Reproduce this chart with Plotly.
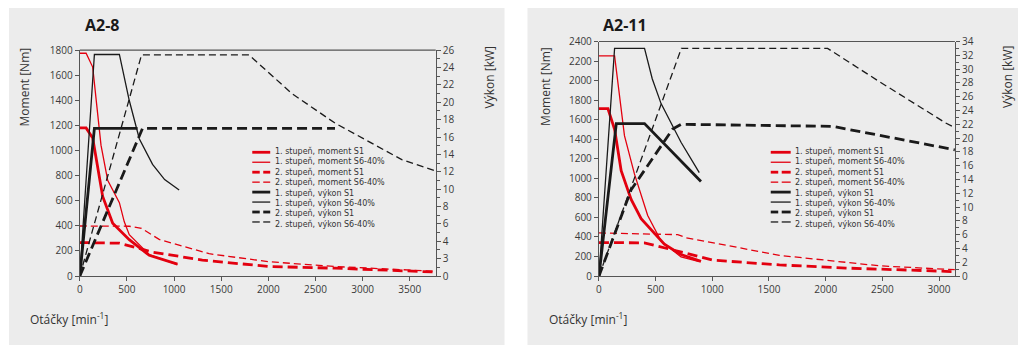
import plotly.graph_objects as go

W, H = 1024, 352

# ---------------- data: A2-8 ----------------
a8_m1s1_x = [0, 67, 137, 243, 349, 525, 737, 1036]
a8_m1s1_y = [1180, 1180, 1100, 635, 420, 290, 165, 95]
a8_m1s6_x = [0, 67, 137, 225, 296, 420, 472, 525, 737, 1036]
a8_m1s6_y = [1775, 1775, 1665, 1043, 763, 585, 432, 330, 170, 92]
a8_m2s1_x = [0, 420, 772, 1300, 2005, 2707, 3775]
a8_m2s1_y = [267, 262, 191, 127, 76, 63, 32]
a8_m2s6_x = [0, 525, 655, 842, 1371, 2005, 2707, 3415, 3775]
a8_m2s6_y = [399, 397, 380, 292, 178, 114, 76, 51, 38]
a8_p1s1_x = [0, 155, 613]
a8_p1s1_y = [0, 17, 17]
a8_p1s6_x = [0, 155, 420, 470, 525, 631, 772, 900, 1054]
a8_p1s6_y = [0, 25.5, 25.5, 22.8, 20.2, 15.8, 12.85, 11.1, 9.9]
a8_p2s1_x = [0, 666, 2707]
a8_p2s1_y = [0, 17, 17]
a8_p2s6_x = [0, 655, 1794, 2250, 2707, 3415, 3775]
a8_p2s6_y = [0, 25.45, 25.45, 21.0, 17.6, 13.4, 12.1]

# ---------------- data: A2-11 ----------------
a11_m1s1_x = [0, 79, 138, 196, 284, 372, 577, 724, 900]
a11_m1s1_y = [1714, 1714, 1502, 1078, 784, 588, 327, 220, 150]
a11_m1s6_x = [0, 138, 225, 313, 430, 548, 724, 885]
a11_m1s6_y = [2253, 2253, 1437, 1045, 620, 359, 196, 147]
a11_m2s1_x = [0, 400, 507, 1006, 1592, 2178, 3058, 3140]
a11_m2s1_y = [343, 340, 310, 163, 114, 82, 49, 45]
a11_m2s6_x = [0, 695, 771, 1592, 2472, 3140]
a11_m2s6_y = [441, 424, 392, 212, 105, 65]
a11_p1s1_x = [0, 153, 402, 900]
a11_p1s1_y = [0, 22.1, 22.1, 13.7]
a11_p1s6_x = [0, 138, 402, 470, 548, 724, 885]
a11_p1s6_y = [0, 33.0, 33.0, 28.6, 25.0, 19.4, 15.0]
a11_p2s1_x = [0, 284, 650, 724, 2063, 3140]
a11_p2s1_y = [0, 12.5, 21.3, 22.0, 21.7, 18.3]
a11_p2s6_x = [0, 727, 2017, 2472, 3058, 3140]
a11_p2s6_y = [0, 33.0, 33.0, 28.2, 22.2, 21.5]

titles = ["A2-8", "A2-11"]
legend_names = ["1. stupeň, moment S1", "1. stupeň, moment S6-40%",
                "2. stupeň, moment S1", "2. stupeň, moment S6-40%",
                "1. stupeň, výkon S1", "1. stupeň, výkon S6-40%",
                "2. stupeň, výkon S1", "2. stupeň, výkon S6-40%"]
a8_x_ticks = [0, 500, 1000, 1500, 2000, 2500, 3000, 3500]
a11_x_ticks = [0, 500, 1000, 1500, 2000, 2500, 3000]
a8_m_ticks = list(range(0, 1801, 200))
a11_m_ticks = list(range(0, 2401, 200))
a8_p_tickvals = [0, 2, 4, 6, 8, 10, 12, 14, 16, 18, 20, 22, 24, 26]
a8_p_ticktext = ["0", "3", "4", "6", "8", "10", "12", "14", "16", "18", "20", "22", "24", "26"]
a11_p_tickvals = list(range(0, 35, 2))

RED = "#e3000f"
BLK = "#1a1a1a"
THICK_DASH = "10px,5px"
THIN_DASH = "7px,4px"
styles = [  # color, width, dash
    (RED, 2.8, "solid"), (RED, 1.3, "solid"), (RED, 2.8, THICK_DASH), (RED, 1.3, THIN_DASH),
    (BLK, 2.8, "solid"), (BLK, 1.3, "solid"), (BLK, 2.8, THICK_DASH), (BLK, 1.3, THIN_DASH),
]

fig = go.Figure()

def px_x(p):
    return p / W

def px_y(p):
    return 1 - p / H

def add_chart(series, xa, ya, ya2):
    for i, (xs, ys) in enumerate(series):
        c, w, d = styles[i]
        axis_y = ya if i < 4 else ya2
        fig.add_trace(go.Scatter(x=xs, y=ys, mode="lines", name=legend_names[i],
                                 line=dict(color=c, width=w, dash=d),
                                 xaxis=xa, yaxis=axis_y, showlegend=False,
                                 hoverinfo="skip"))

add_chart([(a8_m1s1_x, a8_m1s1_y), (a8_m1s6_x, a8_m1s6_y), (a8_m2s1_x, a8_m2s1_y), (a8_m2s6_x, a8_m2s6_y),
           (a8_p1s1_x, a8_p1s1_y), (a8_p1s6_x, a8_p1s6_y), (a8_p2s1_x, a8_p2s1_y), (a8_p2s6_x, a8_p2s6_y)],
          "x", "y", "y2")
add_chart([(a11_m1s1_x, a11_m1s1_y), (a11_m1s6_x, a11_m1s6_y), (a11_m2s1_x, a11_m2s1_y), (a11_m2s6_x, a11_m2s6_y),
           (a11_p1s1_x, a11_p1s1_y), (a11_p1s6_x, a11_p1s6_y), (a11_p2s1_x, a11_p2s1_y), (a11_p2s6_x, a11_p2s6_y)],
          "x2", "y3", "y4")

FONT = "Open Sans"
TICKF = dict(family=FONT, size=10, color="#3a3a3a")
AXC = "#555555"

common_x = dict(showgrid=False, zeroline=False, showline=True, linecolor=AXC, linewidth=1.2,
                ticks="outside", ticklen=4, tickcolor=AXC, tickfont=TICKF, mirror=False)
common_y = dict(showgrid=False, zeroline=False, showline=True, linecolor=AXC, linewidth=1.2,
                ticks="outside", ticklen=4, tickcolor=AXC, tickfont=TICKF)

L1, R1, T1, B1 = 77, 434, 44, 280
L2, R2, T2, B2 = 597.7, 954.7, 35, 280

fig.update_layout(
    width=W, height=H, margin=dict(l=0, r=0, t=0, b=0),
    paper_bgcolor="white", plot_bgcolor="white", showlegend=False,
    xaxis=dict(common_x, domain=[px_x(L1), px_x(R1)], range=[0, 3775], tickvals=a8_x_ticks,
               anchor="y"),
    yaxis=dict(common_y, domain=[px_y(B1), px_y(T1)], range=[0, 1800], tickvals=a8_m_ticks,
               anchor="x"),
    yaxis2=dict(common_y, overlaying="y", side="right", anchor="x", range=[0, 26],
                tickvals=a8_p_tickvals, ticktext=a8_p_ticktext,
                minor=dict(ticks="outside", ticklen=3, tickcolor=AXC, dtick=1, tick0=0)),
    xaxis2=dict(common_x, domain=[px_x(L2), px_x(R2)], range=[0, 3140], tickvals=a11_x_ticks,
                anchor="y3"),
    yaxis3=dict(common_y, domain=[px_y(B2), px_y(T2)], range=[0, 2400], tickvals=a11_m_ticks,
                anchor="x2"),
    yaxis4=dict(common_y, overlaying="y3", side="right", anchor="x2", range=[0, 34],
                tickvals=a11_p_tickvals,
                minor=dict(ticks="outside", ticklen=3, tickcolor=AXC, dtick=1, tick0=0)),
)

shapes = []
# grey panels
for x0, x1 in [(6, 503), (526, 1018)]:
    shapes.append(dict(type="rect", xref="paper", yref="paper", x0=px_x(x0), x1=px_x(x1),
                       y0=0, y1=1, fillcolor="#ececec", line=dict(width=0), layer="below"))
# top borders of plots
for l, r, t in [(L1, R1, T1), (L2, R2, T2)]:
    shapes.append(dict(type="line", xref="paper", yref="paper", x0=px_x(l), x1=px_x(r),
                       y0=px_y(t), y1=px_y(t), line=dict(color=AXC, width=1.2)))

annotations = []
LEG_FS = 8
LINE_H = LEG_FS * 1.3
legend_y0 = 150.7
for lx0, lx1, tx in [(250, 268, 272), (770, 790, 793)]:
    for i, name in enumerate(legend_names):
        c, w, d = styles[i]
        yy = legend_y0 + i * LINE_H
        if d == "solid":
            segs = [(lx0, lx1)]
        else:
            segs = [(lx0, lx0 + 7.5), (lx0 + 11, lx1)]
        for s0, s1 in segs:
            shapes.append(dict(type="line", xref="paper", yref="paper", x0=px_x(s0), x1=px_x(s1),
                               y0=px_y(yy), y1=px_y(yy), line=dict(color=c, width=w)))
    annotations.append(dict(text="<br>".join(legend_names), xref="paper", yref="paper",
                            x=px_x(tx), y=px_y(legend_y0 + 3.5 * LINE_H), xanchor="left",
                            yanchor="middle", align="left", showarrow=False, borderpad=0,
                            font=dict(family="DejaVu Sans", size=LEG_FS, color="#333333")))

for (tx, ty), t in zip([(80, 18), (600, 18)], titles):
    annotations.append(dict(text="<b>%s</b>" % t, xref="paper", yref="paper", x=px_x(tx), y=px_y(ty),
                            xanchor="left", yanchor="middle", showarrow=False,
                            font=dict(family=FONT, size=16, color="#1a1a1a")))

AXT = dict(family=FONT, size=12, color="#333333")
for (tx, ty) in [(22, 82), (544, 82)]:
    annotations.append(dict(text="Moment [Nm]", xref="paper", yref="paper", x=px_x(tx), y=px_y(ty),
                            xanchor="center", yanchor="middle", textangle=-90, showarrow=False, font=AXT))
for (tx, ty) in [(488, 73), (1008, 72)]:
    annotations.append(dict(text="Výkon [kW]", xref="paper", yref="paper", x=px_x(tx), y=px_y(ty),
                            xanchor="center", yanchor="middle", textangle=-90, showarrow=False, font=AXT))
for (tx, ty) in [(25, 325), (546, 325)]:
    annotations.append(dict(text="Otáčky [min<sup>-1</sup>]", xref="paper", yref="paper", x=px_x(tx),
                            y=px_y(ty), xanchor="left", yanchor="middle", showarrow=False, font=AXT))

fig.update_layout(shapes=shapes, annotations=annotations)
fig.write_html("out.html")
